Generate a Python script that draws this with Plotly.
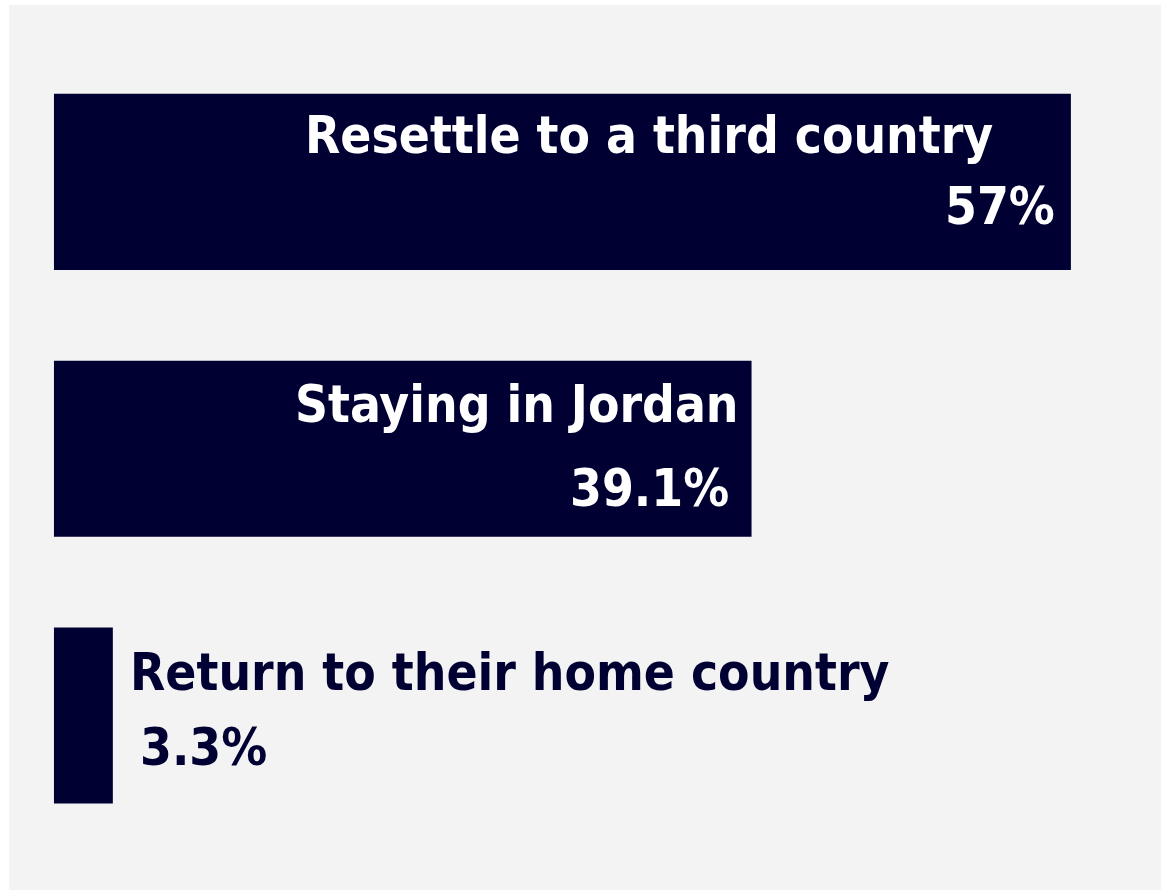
import plotly.graph_objects as go

# Survey answers: where respondents expect their future to be
categories = ["Resettle to a third country", "Staying in Jordan", "Return to their home country"]
shares = [57, 39.1, 3.3]

NAVY = "#000033"
BG = "#f3f3f3"
FONT = "Liberation Sans Narrow, Arial Narrow, DejaVu Sans Condensed, sans-serif"

fig = go.Figure(
    go.Bar(
        x=shares,
        y=list(range(len(categories))),
        orientation="h",
        marker=dict(color=NAVY, line=dict(width=0)),
        width=0.66,
        hoverinfo="skip",
    )
)

# label placement per bar: inside the bar end for long bars, outside for short ones
placement = [
    dict(inside=True, name_dx=-76, pct_dx=-14, name_dy=46, pct_dy=-25),
    dict(inside=True, name_dx=-11, pct_dx=-21, name_dy=44, pct_dy=-40),
    dict(inside=False, name_dx=15, pct_dx=25, name_dy=43, pct_dy=-32),
]

annotations = []
for i, (cat, val) in enumerate(zip(categories, shares)):
    p = placement[i]
    color = "white" if p["inside"] else NAVY
    anchor = "right" if p["inside"] else "left"
    for text, dx, dy in ((cat, p["name_dx"], p["name_dy"]), (f"{val:g}%", p["pct_dx"], p["pct_dy"])):
        annotations.append(
            dict(
                x=val, y=i, xref="x", yref="y",
                text=f"<b>{text}</b>",
                showarrow=False,
                xanchor=anchor, yanchor="middle",
                xshift=dx, yshift=dy,
                font=dict(family=FONT, size=51, color=color),
            )
        )

fig.update_layout(
    width=1161,
    height=890,
    margin=dict(l=9, r=0, t=5, b=0),
    paper_bgcolor="white",
    plot_bgcolor=BG,
    showlegend=False,
    annotations=annotations,
    xaxis=dict(range=[-2.52, 62.05], visible=False, fixedrange=True),
    yaxis=dict(range=[2.654, -0.663], visible=False, fixedrange=True),
)

fig.write_html("out.html", config={"displayModeBar": False})
